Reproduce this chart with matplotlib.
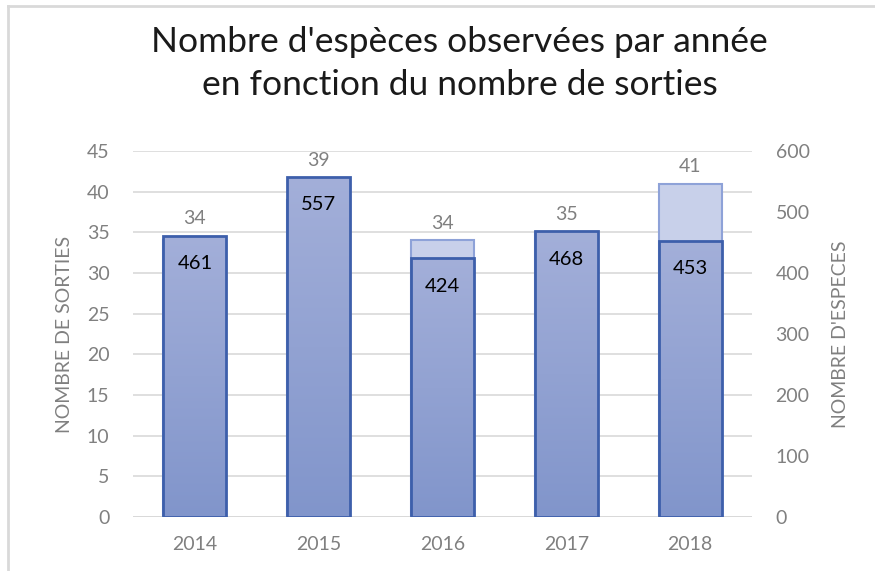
import numpy as np
import matplotlib.pyplot as plt
import matplotlib.colors as mcolors
from matplotlib.lines import Line2D

plt.rcParams['font.family'] = ['Lato', 'DejaVu Sans']

annees = ['2014', '2015', '2016', '2017', '2018']
sorties = [34, 39, 34, 35, 41]
especes = [461, 557, 424, 468, 453]

gris = '#808080'
grille = '#d9d9d9'

fig = plt.figure(figsize=(8.75, 5.71), dpi=100)
ax = fig.add_axes([0.152, 0.0946, 0.7074, 0.641])
ax2 = ax.twinx()

x = np.arange(len(annees))
largeur = 0.51

# sorties (axe gauche), barres claires
ax.bar(x, sorties, width=largeur, color='#c8d0ea', edgecolor='#8ea2d8',
       linewidth=1.5, zorder=2)
ax.set_ylim(0, 45)
ax.set_yticks(np.arange(0, 46, 5))
ax.set_xlim(-0.5, len(annees) - 0.5)
ax.set_xticks(x)
ax.set_xticklabels(annees)
ax.grid(axis='y', color=grille, linewidth=1.2, zorder=0)
ax.set_axisbelow(True)

# especes (axe droit), barres foncees en degrade
ax2.set_ylim(0, 600)
ax2.set_yticks(np.arange(0, 601, 100))
cmap = mcolors.LinearSegmentedColormap.from_list('bleu', ['#8195cb', '#a3afd9'])
grad = np.linspace(0, 1, 256).reshape(-1, 1)
barres = ax2.bar(x, especes, width=largeur, facecolor='none',
                 edgecolor='#3d5fab', linewidth=2, zorder=4)
for b in barres:
    x0, h = b.get_x(), b.get_height()
    im = ax2.imshow(grad, extent=[x0, x0 + largeur, 0, h], origin='lower',
                    cmap=cmap, aspect='auto', zorder=3)
    im.set_clip_path(b)
ax2.set_xlim(-0.5, len(annees) - 0.5)
ax2.set_aspect('auto')

for a in (ax, ax2):
    for s in a.spines.values():
        s.set_visible(False)
    a.tick_params(length=0, colors=gris, labelsize=14)
ax.tick_params(axis='x', pad=14)
ax.tick_params(axis='y', pad=17)
ax2.tick_params(axis='y', pad=17)
ax.axhline(0, color=grille, linewidth=2, zorder=5)

# etiquettes
for i in range(len(annees)):
    haut = max(sorties[i], especes[i] * 45 / 600)
    ax.annotate(str(sorties[i]), (x[i], haut), xytext=(0, 6),
                textcoords='offset points', ha='center', va='bottom',
                color=gris, fontsize=14, zorder=6)
    ax2.annotate(str(especes[i]), (x[i], especes[i]), xytext=(0, -20),
                 textcoords='offset points', ha='center', va='center',
                 color='black', fontsize=14.5, zorder=6)

ax.set_ylabel('NOMBRE DE SORTIES', color=gris, fontsize=14, labelpad=10)
ax2.set_ylabel("NOMBRE D'ESPECES", color=gris, fontsize=14, labelpad=16)

fig.text(0.525, 0.889, "Nombre d'espèces observées par année\nen fonction du nombre de sorties",
         ha='center', va='center', fontsize=25.5, linespacing=1.4, color='#1a1a1a')

# cadre du graphique
fig.add_artist(Line2D([0.009, 0.009], [0, 0.99], color=grille, linewidth=2,
                      transform=fig.transFigure))
fig.add_artist(Line2D([0.009, 1], [0.99, 0.99], color=grille, linewidth=2,
                      transform=fig.transFigure))

fig.savefig('out.png', dpi=100)
